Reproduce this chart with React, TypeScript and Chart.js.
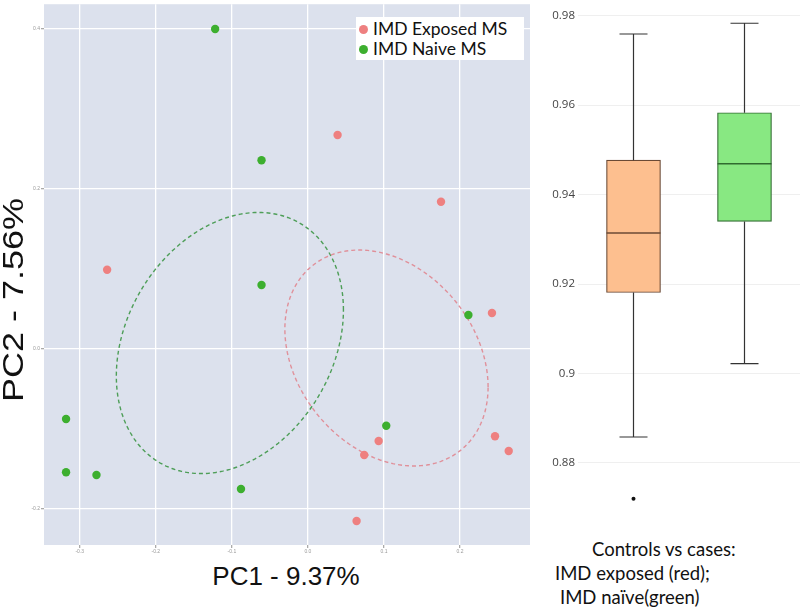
import React, { useEffect, useRef } from "react";
import { Chart, registerables } from "chart.js";
Chart.register(...registerables);

// ---- PCA scatter data ----
const exposedX = [-0.264, 0.039, 0.175, 0.242, 0.246, 0.264, 0.093, 0.074, 0.064];
const exposedY = [0.099, 0.2675, 0.184, 0.045, -0.109, -0.1275, -0.115, -0.1325, -0.215];
const naiveX = [-0.122, -0.061, -0.061, 0.211, 0.103, -0.318, -0.318, -0.278, -0.088];
const naiveY = [0.4, 0.236, 0.08, 0.0425, -0.096, -0.0875, -0.154, -0.1575, -0.175];
const seriesNames = ["IMD Exposed MS", "IMD Naive MS"];
const pcaXTicks = [-0.3, -0.2, -0.1, 0, 0.1, 0.2];
const pcaYTicks = [-0.2, 0, 0.2, 0.4];
// ellipse: [centerX, centerY, axisA dx, axisA dy, axisB dx, axisB dy] (data units)
const exposedEllipse = [0.1033, -0.01125, 0.1336, -0.03625, 0, 0.13];
const naiveEllipse = [-0.1026, 0.0075, 0.1493, 0.04125, 0, 0.1579];

// ---- Boxplot data ----
const boxLabels = ["IMD exposed", "IMD naïve"];
const boxMin = [0.8858, 0.9022];
const boxQ1 = [0.9181, 0.934];
const boxMedian = [0.9314, 0.9469];
const boxQ3 = [0.9477, 0.9583];
const boxMax = [0.9759, 0.9783];
const boxOutliers = [[0.872], []];
const boxTicks = [0.88, 0.9, 0.92, 0.94, 0.96, 0.98];

const RED = "#EE8080";
const GREEN = "#3DAF2F";
const BOX_FILL = ["#FDBF8F", "#88E882"];
const BOX_EDGE = ["#6B4A35", "#2F6B2F"];

const fmt1 = (v: number) => {
  const s = Number(v).toFixed(1);
  return s === "-0.0" ? "0.0" : s;
};

const bgPlugin = {
  id: "panelBg",
  beforeDraw(chart: any) {
    const { ctx, chartArea } = chart;
    ctx.save();
    ctx.fillStyle = "#DCE1ED";
    ctx.fillRect(chartArea.left, chartArea.top, chartArea.width, chartArea.height);
    ctx.restore();
  },
};

const ellipsePlugin = {
  id: "ellipses",
  beforeDatasetsDraw(chart: any) {
    const { ctx, chartArea } = chart;
    const xs = chart.scales.x;
    const ys = chart.scales.y;
    const draw = (e: number[], color: string) => {
      ctx.save();
      ctx.beginPath();
      ctx.rect(chartArea.left, chartArea.top, chartArea.width, chartArea.height);
      ctx.clip();
      ctx.beginPath();
      const n = 200;
      for (let i = 0; i <= n; i++) {
        const t = (i / n) * Math.PI * 2;
        const vx = e[0] + e[2] * Math.cos(t) + e[4] * Math.sin(t);
        const vy = e[1] + e[3] * Math.cos(t) + e[5] * Math.sin(t);
        const px = xs.getPixelForValue(vx);
        const py = ys.getPixelForValue(vy);
        if (i === 0) ctx.moveTo(px, py);
        else ctx.lineTo(px, py);
      }
      ctx.closePath();
      ctx.setLineDash([4, 3]);
      ctx.lineWidth = 1.4;
      ctx.strokeStyle = color;
      ctx.stroke();
      ctx.restore();
    };
    draw(naiveEllipse, "#4E9E58");
    draw(exposedEllipse, "#E0909A");
  },
};

const boxPlugin = {
  id: "boxParts",
  afterDatasetsDraw(chart: any) {
    const { ctx } = chart;
    const xs = chart.scales.x;
    const ys = chart.scales.y;
    const meta = chart.getDatasetMeta(0);
    boxLabels.forEach((_, i) => {
      const cx = xs.getPixelForValue(i);
      const bar = meta.data[i];
      const half = bar ? bar.width / 2 : 27;
      ctx.save();
      ctx.strokeStyle = "#333";
      ctx.lineWidth = 1.2;
      ctx.beginPath();
      ctx.moveTo(cx, ys.getPixelForValue(boxQ3[i]));
      ctx.lineTo(cx, ys.getPixelForValue(boxMax[i]));
      ctx.moveTo(cx, ys.getPixelForValue(boxQ1[i]));
      ctx.lineTo(cx, ys.getPixelForValue(boxMin[i]));
      ctx.moveTo(cx - 14, ys.getPixelForValue(boxMax[i]));
      ctx.lineTo(cx + 14, ys.getPixelForValue(boxMax[i]));
      ctx.moveTo(cx - 14, ys.getPixelForValue(boxMin[i]));
      ctx.lineTo(cx + 14, ys.getPixelForValue(boxMin[i]));
      ctx.stroke();
      ctx.strokeStyle = BOX_EDGE[i];
      ctx.lineWidth = 1.6;
      ctx.beginPath();
      ctx.moveTo(cx - half, ys.getPixelForValue(boxMedian[i]));
      ctx.lineTo(cx + half, ys.getPixelForValue(boxMedian[i]));
      ctx.stroke();
      ctx.fillStyle = "#111";
      boxOutliers[i].forEach((v) => {
        ctx.beginPath();
        ctx.arc(cx, ys.getPixelForValue(v), 2, 0, Math.PI * 2);
        ctx.fill();
      });
      ctx.restore();
    });
  },
};

function PcaChart() {
  const ref = useRef<HTMLCanvasElement>(null);
  useEffect(() => {
    if (!ref.current) return;
    const chart = new Chart(ref.current, {
      type: "scatter",
      data: {
        datasets: [
          {
            label: seriesNames[0],
            data: exposedX.map((x, i) => ({ x, y: exposedY[i] })),
            backgroundColor: RED,
            borderColor: RED,
            pointRadius: 4.2,
            borderWidth: 0,
          },
          {
            label: seriesNames[1],
            data: naiveX.map((x, i) => ({ x, y: naiveY[i] })),
            backgroundColor: GREEN,
            borderColor: GREEN,
            pointRadius: 4.2,
            borderWidth: 0,
          },
        ],
      },
      options: {
        responsive: false,
        animation: false,
        devicePixelRatio: 1,
        layout: { padding: { top: 4, right: 10, left: 0, bottom: 0 } },
        plugins: { legend: { display: false }, tooltip: { enabled: false } },
        scales: {
          x: {
            type: "linear",
            min: -0.347,
            max: 0.292,
            afterBuildTicks: (s: any) => {
              s.ticks = pcaXTicks.map((v) => ({ value: v }));
            },
            afterFit: (s: any) => {
              s.height = 15;
            },
            ticks: {
              font: { size: 5, family: "Liberation Sans" },
              color: "#999",
              padding: 1,
              maxRotation: 0,
              autoSkip: false,
              callback: (v: any) => fmt1(v),
            },
            grid: { color: "#FFFFFF", lineWidth: 1.3, tickLength: 3, tickColor: "#aaa" },
            border: { display: false },
          },
          y: {
            type: "linear",
            min: -0.245,
            max: 0.431,
            afterBuildTicks: (s: any) => {
              s.ticks = pcaYTicks.map((v) => ({ value: v }));
            },
            afterFit: (s: any) => {
              s.width = 44;
            },
            ticks: {
              font: { size: 5, family: "Liberation Sans" },
              color: "#999",
              padding: 1,
              autoSkip: false,
              callback: (v: any) => fmt1(v),
            },
            grid: { color: "#FFFFFF", lineWidth: 1.3, tickLength: 3, tickColor: "#aaa" },
            border: { display: false },
          },
        },
      },
      plugins: [bgPlugin, ellipsePlugin],
    } as any);
    return () => chart.destroy();
  }, []);
  return <canvas ref={ref} width={540} height={560} style={{ position: "absolute", left: 0, top: 0 }} />;
}

function BoxChart() {
  const ref = useRef<HTMLCanvasElement>(null);
  useEffect(() => {
    if (!ref.current) return;
    const chart = new Chart(ref.current, {
      type: "bar",
      data: {
        labels: boxLabels,
        datasets: [
          {
            data: boxQ1.map((q, i) => [q, boxQ3[i]]),
            backgroundColor: BOX_FILL,
            borderColor: BOX_EDGE,
            borderWidth: 1.2,
            borderSkipped: false,
            barThickness: 54,
          },
        ],
      },
      options: {
        responsive: false,
        animation: false,
        devicePixelRatio: 1,
        layout: { padding: 0 },
        plugins: { legend: { display: false }, tooltip: { enabled: false } },
        scales: {
          x: { display: false, offset: true },
          y: {
            min: 0.86946,
            max: 0.98129,
            afterBuildTicks: (s: any) => {
              s.ticks = boxTicks.map((v) => ({ value: v }));
            },
            afterFit: (s: any) => {
              s.width = 38;
            },
            ticks: {
              font: { size: 11.5, family: "Open Sans" },
              color: "#444",
              padding: 3,
              autoSkip: false,
              callback: (v: any) => String(Number(Number(v).toFixed(2))),
            },
            grid: { color: "#EFEFEF", lineWidth: 1, drawTicks: false },
            border: { display: false },
          },
        },
      },
      plugins: [boxPlugin],
    } as any);
    return () => chart.destroy();
  }, []);
  return <canvas ref={ref} width={260} height={520} style={{ position: "absolute", left: 540, top: 0 }} />;
}

export default function App() {
  const lato = { fontFamily: "Lato, sans-serif", color: "#111", whiteSpace: "nowrap" as const, position: "absolute" as const };
  return (
    <div style={{ position: "absolute", left: 0, top: 0, width: 800, height: 608, background: "#fff", overflow: "hidden" }}>
      <PcaChart />
      <BoxChart />
      {/* legend */}
      <div
        style={{
          position: "absolute",
          left: 356,
          top: 17,
          width: 168,
          height: 43,
          background: "#fff",
          fontFamily: "Lato, sans-serif",
          fontSize: 17.5,
          color: "#111",
        }}
      >
        {seriesNames.map((n, i) => (
          <div key={n} style={{ position: "absolute", left: 3, top: 2 + i * 20, height: 20, lineHeight: "20px", whiteSpace: "nowrap" }}>
            <span
              style={{
                display: "inline-block",
                width: 9,
                height: 9,
                borderRadius: "50%",
                background: i === 0 ? RED : GREEN,
                marginRight: 5,
                verticalAlign: "middle",
                position: "relative",
                top: -1,
              }}
            />
            {n}
          </div>
        ))}
      </div>
      {/* axis titles */}
      <div
        style={{
          position: "absolute",
          left: 186,
          top: 561,
          width: 200,
          lineHeight: "30px",
          textAlign: "center",
          fontFamily: "Liberation Sans, Arial, sans-serif",
          fontSize: 26,
          color: "#111",
          whiteSpace: "nowrap",
        }}
      >
        PC1 - 9.37%
      </div>
      <div
        style={{
          position: "absolute",
          left: 12.5 - 150,
          top: 300 - 15,
          width: 300,
          height: 30,
          lineHeight: "30px",
          textAlign: "center",
          fontFamily: "Liberation Sans, Arial, sans-serif",
          fontSize: 30,
          color: "#111",
          whiteSpace: "nowrap",
          transform: "rotate(-90deg) scaleX(1.2)",
          transformOrigin: "center",
        }}
      >
        PC2 - 7.56%
      </div>
      {/* caption under boxplot */}
      <div style={{ ...lato, left: 592, top: 537, fontSize: 18.5, lineHeight: "24px" }}>Controls vs cases:</div>
      <div style={{ ...lato, left: 555, top: 561, fontSize: 18.5, lineHeight: "24px" }}>IMD exposed (red);</div>
      <div style={{ ...lato, left: 560, top: 585, fontSize: 18.5, lineHeight: "24px" }}>IMD naïve(green)</div>
    </div>
  );
}
